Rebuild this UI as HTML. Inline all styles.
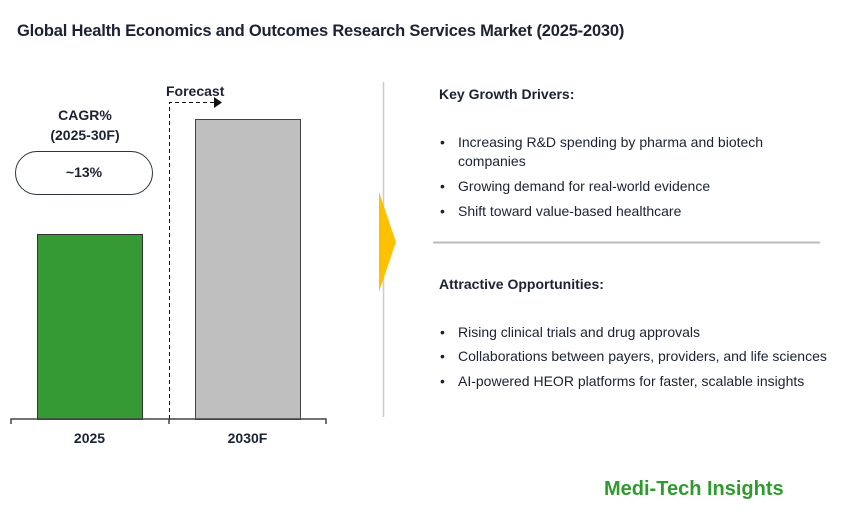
<!DOCTYPE html>
<html><head><style>
body{margin:0;width:842px;height:530px;background:#fff;font-family:"Liberation Sans",Arial,sans-serif;color:#1a2233;position:relative;overflow:hidden}
.a{position:absolute;white-space:nowrap}
ul{margin:0;padding:0;list-style:none}
li{position:absolute;left:0;white-space:nowrap;font-size:14px}
li:before{content:"•";position:absolute;left:-18px}
li.nb:before{content:""}
</style></head><body>
<div class="a" style="left:17px;top:22px;font-size:16.5px;font-weight:bold;letter-spacing:-0.2px">Global Health Economics and Outcomes Research Services Market (2025-2030)</div>
<svg class="a" style="left:0;top:0" width="842" height="530">
<rect x="37.5" y="234.5" width="105" height="185" fill="#359934" stroke="#333" stroke-width="1"/>
<rect x="195.5" y="119.5" width="105" height="300" fill="#bfbfbf" stroke="#444" stroke-width="1"/>
<path d="M11 424V419H326V424M169 419V424" stroke="#444" stroke-width="1.5" fill="none"/>
<path d="M169.5 419V102.5H214" stroke="#111" stroke-width="1" stroke-dasharray="4,3" fill="none"/>
<path d="M214 97L222 102.5L214 108Z" fill="#111"/>
<rect x="15.5" y="151.5" width="137" height="43" rx="21.5" fill="#fff" stroke="#2a3344" stroke-width="1"/>
<line x1="383.5" y1="82" x2="383.5" y2="417" stroke="#ccc" stroke-width="1.5"/>
<path d="M379 192L396 242L379 292Z" fill="#ffc000"/>
<line x1="433" y1="242.5" x2="820" y2="242.5" stroke="#bbb" stroke-width="2"/>
</svg>
<div class="a" style="left:166px;top:83px;font-size:14px;font-weight:bold">Forecast</div>
<div class="a" style="left:30px;top:105px;width:110px;text-align:center;font-size:14px;font-weight:bold;line-height:20px">CAGR%<br>(2025-30F)</div>
<div class="a" style="left:15px;top:164px;width:138px;text-align:center;font-size:14px;font-weight:bold">~13%</div>
<div class="a" style="left:37px;top:430px;width:105px;text-align:center;font-size:14px;font-weight:bold">2025</div>
<div class="a" style="left:195px;top:430px;width:105px;text-align:center;font-size:14px;font-weight:bold">2030F</div>
<div class="a" style="left:439px;top:86px;font-size:14px;font-weight:bold">Key Growth Drivers:</div>
<ul class="a" style="left:458px;top:0">
<li style="top:134px">Increasing R&amp;D spending by pharma and biotech</li>
<li class="nb" style="top:153px;">companies</li>
<li style="top:178px">Growing demand for real-world evidence</li>
<li style="top:203px">Shift toward value-based healthcare</li>
</ul>
<div class="a" style="left:439px;top:276px;font-size:14px;font-weight:bold">Attractive Opportunities:</div>
<ul class="a" style="left:458px;top:0">
<li style="top:324px">Rising clinical trials and drug approvals</li>
<li style="top:348px">Collaborations between payers, providers, and life sciences</li>
<li style="top:373px">AI-powered HEOR platforms for faster, scalable insights</li>
</ul>
<div class="a" style="left:604px;top:478px;font-size:20px;font-weight:bold;color:#2f9a2e">Medi-Tech Insights</div>
</body></html>
